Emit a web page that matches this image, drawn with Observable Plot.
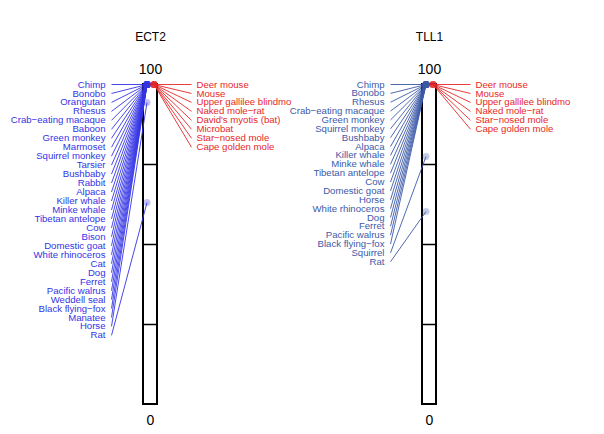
<!DOCTYPE html>
<html><head><meta charset="utf-8">
<script src="https://cdn.jsdelivr.net/npm/d3@7"></script>
<script src="https://cdn.jsdelivr.net/npm/@observablehq/plot@0.6"></script>
<style>body{margin:0;background:#fff;font-family:"Liberation Sans",Arial,sans-serif}</style>
</head><body><div id="chart"></div>
<script>
// ---- data ----
const genes = ["ECT2", "TLL1"];
const ect2Left = ["Chimp","Bonobo","Orangutan","Rhesus","Crab−eating macaque","Baboon","Green monkey","Marmoset","Squirrel monkey","Tarsier","Bushbaby","Rabbit","Alpaca","Killer whale","Minke whale","Tibetan antelope","Cow","Bison","Domestic goat","White rhinoceros","Cat","Dog","Ferret","Pacific walrus","Weddell seal","Black flying−fox","Manatee","Horse","Rat"];
const ect2LeftValues = [100,100,100,100,100,100,100,100,100,100,100,100,100,100,100,100,100,100,100,100,100,100,100,100,100,100,100,94.4,63.1];
const ect2Right = ["Deer mouse","Mouse","Upper gallilee blindmo","Naked mole−rat","David's myotis (bat)","Microbat","Star−nosed mole","Cape golden mole"];
const ect2RightValues = [100,100,100,100,100,100,100,100];
const tll1Left = ["Chimp","Bonobo","Rhesus","Crab−eating macaque","Green monkey","Squirrel monkey","Bushbaby","Alpaca","Killer whale","Minke whale","Tibetan antelope","Cow","Domestic goat","Horse","White rhinoceros","Dog","Ferret","Pacific walrus","Black flying−fox","Squirrel","Rat"];
const tll1LeftValues = [100,100,100,100,100,100,100,100,100,100,100,100,100,100,100,100,100,100,100,77.5,60.3];
const tll1Right = ["Deer mouse","Mouse","Upper gallilee blindmo","Naked mole−rat","Star−nosed mole","Cape golden mole"];
const tll1RightValues = [100,100,100,100,100,100];
const gridTicks = [25, 50, 75];
const endLabels = ["0", "100"];

// ---- layout / style ----
const centers = [150, 429];
const leftColors = ["#3434e6", "#3d5aa8"];
const rightColor = "#e62828";
const spacing = [2.8, 2.77];
const panels = [
  {left: ect2Left, lv: ect2LeftValues, right: ect2Right, rv: ect2RightValues},
  {left: tll1Left, lv: tll1LeftValues, right: tll1Right, rv: tll1RightValues}
];

const bars = [], grid = [], rows = [], titles = [], bottoms = [], tops = [];
panels.forEach((p, k) => {
  const cx = centers[k];
  bars.push({x1: cx - 7, x2: cx + 7});
  gridTicks.forEach(t => grid.push({x1: cx - 7, x2: cx + 7, y: t}));
  titles.push({x: cx, text: genes[k]});
  bottoms.push({x: cx, y: 0, text: endLabels[0]});
  tops.push({x: cx, y: 100, text: endLabels[1]});
  p.left.forEach((n, i) => rows.push({name: n, value: p.lv[i], side: "L", color: leftColors[k],
    px: cx - 3.5, lx: cx - 39, tx: cx - 45, ly: 100 - spacing[k] * i}));
  p.right.forEach((n, i) => rows.push({name: n, value: p.rv[i], side: "R", color: rightColor,
    px: cx + 3.5, lx: cx + 41, tx: cx + 46, ly: 100 - 2.8 * i}));
});

const plot = Plot.plot({
  width: 604, height: 434,
  margin: 0,
  x: {domain: [0, 604], range: [0, 604], axis: null},
  y: {domain: [0, 100], range: [404, 84], axis: null},
  style: {fontFamily: "'Liberation Sans', Arial, sans-serif", background: "white"},
  marks: [
    Plot.rect(bars, {x1: "x1", x2: "x2", y1: 0, y2: 100, fill: "white", stroke: "black", strokeWidth: 2}),
    Plot.link(grid, {x1: "x1", x2: "x2", y1: "y", y2: "y", stroke: "black", strokeWidth: 1.5}),
    Plot.link(rows, {x1: "lx", y1: "ly", x2: "px", y2: "value", stroke: d => d.color, strokeWidth: 1, strokeOpacity: 0.9}),
    Plot.dot(rows, {x: "px", y: "value", r: 3.5, fill: d => d.color, fillOpacity: 0.3, stroke: "none"}),
    Plot.text(rows.filter(d => d.side === "L"), {x: "tx", y: "ly", text: "name", fill: d => d.color, textAnchor: "end", fontSize: 9.6}),
    Plot.text(rows.filter(d => d.side === "R"), {x: "tx", y: "ly", text: "name", fill: d => d.color, textAnchor: "start", fontSize: 9.6}),
    Plot.text(tops, {x: "x", y: "y", text: "text", fontSize: 14, fill: "black", dy: -15}),
    Plot.text(bottoms, {x: "x", y: "y", text: "text", fontSize: 14, fill: "black", dy: 16}),
    Plot.text(titles, {x: "x", y: 100, text: "text", fontSize: 12, fill: "black", dy: -47})
  ]
});
document.getElementById("chart").appendChild(plot);
</script>
</body></html>
